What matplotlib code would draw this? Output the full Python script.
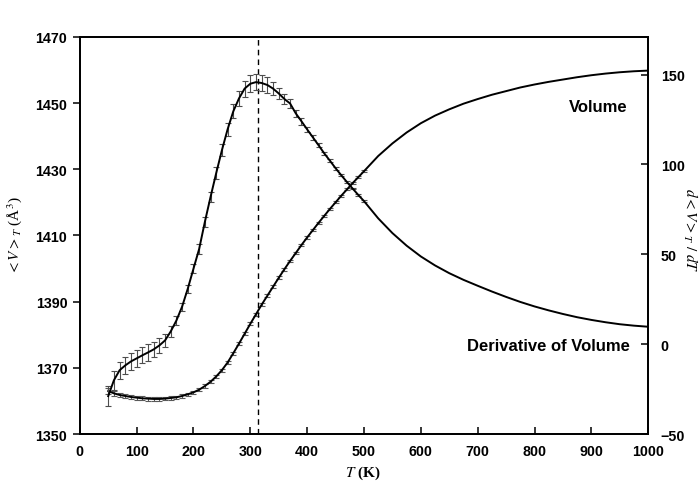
import numpy as np
import matplotlib.pyplot as plt

plt.rcParams['font.family'] = 'Liberation Sans'
plt.rcParams['mathtext.fontset'] = 'stix'

# temperatures with error bars (every 10 K) and the smooth tail (every 25 K)
T_fine = list(range(50, 501, 10))
T_tail = list(range(525, 1001, 25))

# mean volume <V>_T (A^3), left axis
V_fine = [1363.0, 1362.3, 1361.8, 1361.5, 1361.2, 1361.0, 1360.8, 1360.7, 1360.6, 1360.6,
          1360.7, 1360.9, 1361.1, 1361.5, 1362.0, 1362.6, 1363.4, 1364.5, 1365.8, 1367.4,
          1369.3, 1371.6, 1374.4, 1377.3, 1380.3, 1383.3, 1386.2, 1389.1, 1391.8, 1394.5,
          1397.2, 1399.8, 1402.3, 1404.7, 1407.1, 1409.4, 1411.6, 1413.8, 1415.9, 1418.0,
          1420.0, 1422.0, 1423.9, 1425.8, 1427.6, 1429.4]
V_err = [0.8, 0.8, 0.7, 0.7, 0.6, 0.6, 0.6, 0.6, 0.5, 0.5,
         0.5, 0.5, 0.5, 0.5, 0.5, 0.5, 0.5, 0.5, 0.5, 0.5,
         0.5, 0.5, 0.5, 0.5, 0.5, 0.5, 0.5, 0.5, 0.5, 0.5,
         0.4, 0.4, 0.4, 0.4, 0.4, 0.4, 0.4, 0.4, 0.3, 0.3,
         0.3, 0.3, 0.3, 0.3, 0.3, 0.3]
V_tail = [1434.0, 1437.8, 1441.1, 1443.9, 1446.2, 1448.1, 1449.8, 1451.2, 1452.5, 1453.6,
          1454.7, 1455.6, 1456.4, 1457.1, 1457.8, 1458.4, 1458.9, 1459.3, 1459.6, 1459.8]

# derivative d<V>_T/dT, right axis
D_fine = [-28.9, -20.1, -14.5, -11.8, -9.6, -7.9, -6.2, -4.6, -2.9, -0.7,
          2.1, 7.1, 13.2, 20.9, 30.9, 42.0, 53.0, 68.0, 81.9, 95.2,
          107.9, 119.5, 129.5, 136.7, 142.2, 144.9, 145.8, 145.3, 144.2, 142.2,
          139.5, 136.4, 133.9, 128.4, 124.0, 119.5, 115.1, 110.7, 106.2, 102.1,
          97.9, 94.0, 90.2, 86.6, 83.0, 79.6]
D_err = [5.5, 5.3, 4.7, 4.7, 4.7, 4.7, 4.5, 4.5, 4.3, 4.0,
         3.6, 3.0, 2.5, 2.2, 2.2, 2.5, 2.8, 3.0, 3.0, 3.2,
         3.4, 3.6, 3.9, 4.2, 4.5, 4.6, 4.6, 4.5, 4.2, 3.8,
         3.3, 2.8, 2.4, 2.0, 1.8, 1.6, 1.4, 1.2, 1.0, 0.9,
         0.8, 0.7, 0.6, 0.5, 0.5, 0.4]
D_tail = [70.0, 61.8, 54.8, 48.8, 43.8, 39.5, 35.8, 32.5, 29.3, 26.3,
          23.5, 21.0, 18.8, 16.8, 15.0, 13.5, 12.2, 11.1, 10.3, 9.7]

T_PEAK = 313

fig = plt.figure(figsize=(7, 4.85), dpi=100)
ax = fig.add_axes([0.114, 0.103, 0.812, 0.819])
ax2 = ax.twinx()

ax.plot(T_fine + T_tail, V_fine + V_tail, color='black', lw=1.4, zorder=3)
ax.errorbar(T_fine, V_fine, yerr=V_err, fmt='none', ecolor='0.35',
            elinewidth=0.8, capsize=2.5, capthick=0.8, zorder=2)

ax2.plot(T_fine + T_tail, D_fine + D_tail, color='black', lw=1.4, zorder=3)
ax2.errorbar(T_fine, D_fine, yerr=D_err, fmt='none', ecolor='0.3',
             elinewidth=0.8, capsize=2.5, capthick=0.8, zorder=2)

ax.axvline(T_PEAK, color='black', lw=1.0, ls=(0, (4, 3)))

ax.set_xlim(0, 1000)
ax.set_ylim(1350, 1470)
ax2.set_ylim(-50, 171)
ax.set_xticks(range(0, 1001, 100))
ax.set_yticks(range(1350, 1471, 20))
ax2.set_yticks([-50, 0, 50, 100, 150])

for a in (ax, ax2):
    for s in a.spines.values():
        s.set_linewidth(1.3)
ax.tick_params(axis='y', direction='out', length=5, width=1.1, pad=4)
ax.tick_params(axis='x', direction='in', length=5, width=1.1, pad=7, top=False)
ax2.tick_params(axis='y', direction='in', length=5, width=1.1, pad=9)
for lab in ax.get_xticklabels() + ax.get_yticklabels() + ax2.get_yticklabels():
    lab.set_fontsize(10.3)
    lab.set_fontweight('bold')

ax.text(963, 1449.1, 'Volume', ha='right', va='center', fontsize=12, fontweight='bold')
ax.text(968, 1376.6, 'Derivative of Volume', ha='right', va='center',
        fontsize=12, fontweight='bold')

fig.text(0.519, 0.024, r'$T$ (K)', ha='center', va='center', fontsize=11,
         family='Liberation Serif', fontweight='bold')
fig.text(0.021, 0.513, r'${<}V{>}_T$ (Å$^3$)', rotation=90, ha='center', va='center',
         fontsize=11, family='Liberation Serif')
fig.text(0.986, 0.526, r'$d{<}V{>}_T\ /\ dT$', rotation=270, ha='center', va='center',
         fontsize=11, family='Liberation Serif')

fig.savefig('out.png', dpi=100)
